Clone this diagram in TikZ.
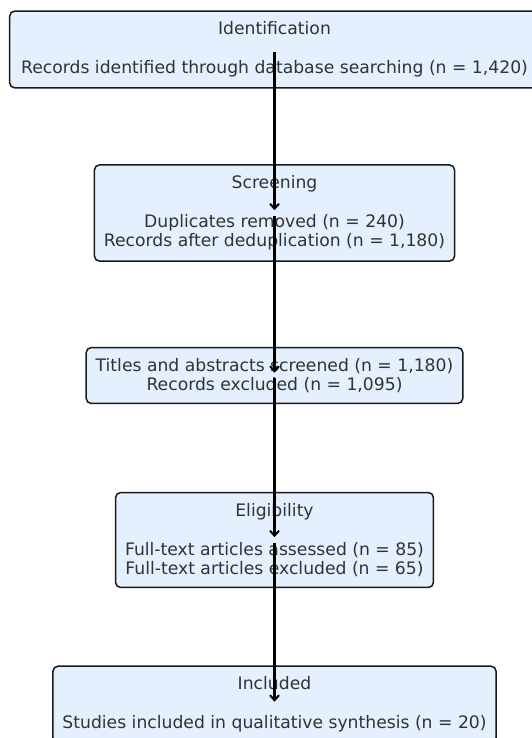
\documentclass[tikz,border=0pt]{standalone}
\usepackage{fontspec}
\setmainfont{DejaVu Sans}
\usetikzlibrary{arrows.meta}

\definecolor{boxfill}{RGB}{228,240,253}
\definecolor{boxline}{RGB}{25,25,25}
\definecolor{boxtext}{RGB}{50,50,50}

\begin{document}
\begin{tikzpicture}[x=1pt,y=-1pt,
	stage/.style={draw=boxline,fill=boxfill,line width=1.5pt,rounded corners=5pt,
		align=center,text=boxtext,inner xsep=9.5pt,inner ysep=10.5pt,
		font=\fontsize{17.2}{19.5}\selectfont},
	flow/.style={line width=2.2pt,-{Straight Barb[length=5pt,width=9pt,line width=2pt]},
		shorten <=2.8pt,shorten >=2.8pt}]
	\useasboundingbox (0,0) rectangle (531,738);
	%\draw [help lines, lightgray] (0,0) grid[step=50] (531,738);

	% boxes, top to bottom
	\node [stage,inner xsep=11.5pt] (ident) at (274.5,49.5) {Identification\\[\baselineskip]Records identified through database searching (n = 1,420)};
	\node [stage] (screen) at (274.5,213) {Screening\\[\baselineskip]Duplicates removed (n = 240)\\Records after deduplication (n = 1,180)};
	\node [stage] (titles) at (274.5,375.5) {Titles and abstracts screened (n = 1,180)\\Records excluded (n = 1,095)};
	\node [stage] (elig) at (274.5,540) {Eligibility\\[\baselineskip]Full-text articles assessed (n = 85)\\Full-text articles excluded (n = 65)};
	\node [stage] (incl) at (274.5,704.5) {Included\\[\baselineskip]Studies included in qualitative synthesis (n = 20)};

	%% arrows run centre to centre, over the boxes
	\draw [flow] (ident.center) -- (screen.center);
	\draw [flow] (screen.center) -- (titles.center);
	\draw [flow] (titles.center) -- (elig.center);
	\draw [flow] (elig.center) -- (incl.center);
\end{tikzpicture}
\end{document}
